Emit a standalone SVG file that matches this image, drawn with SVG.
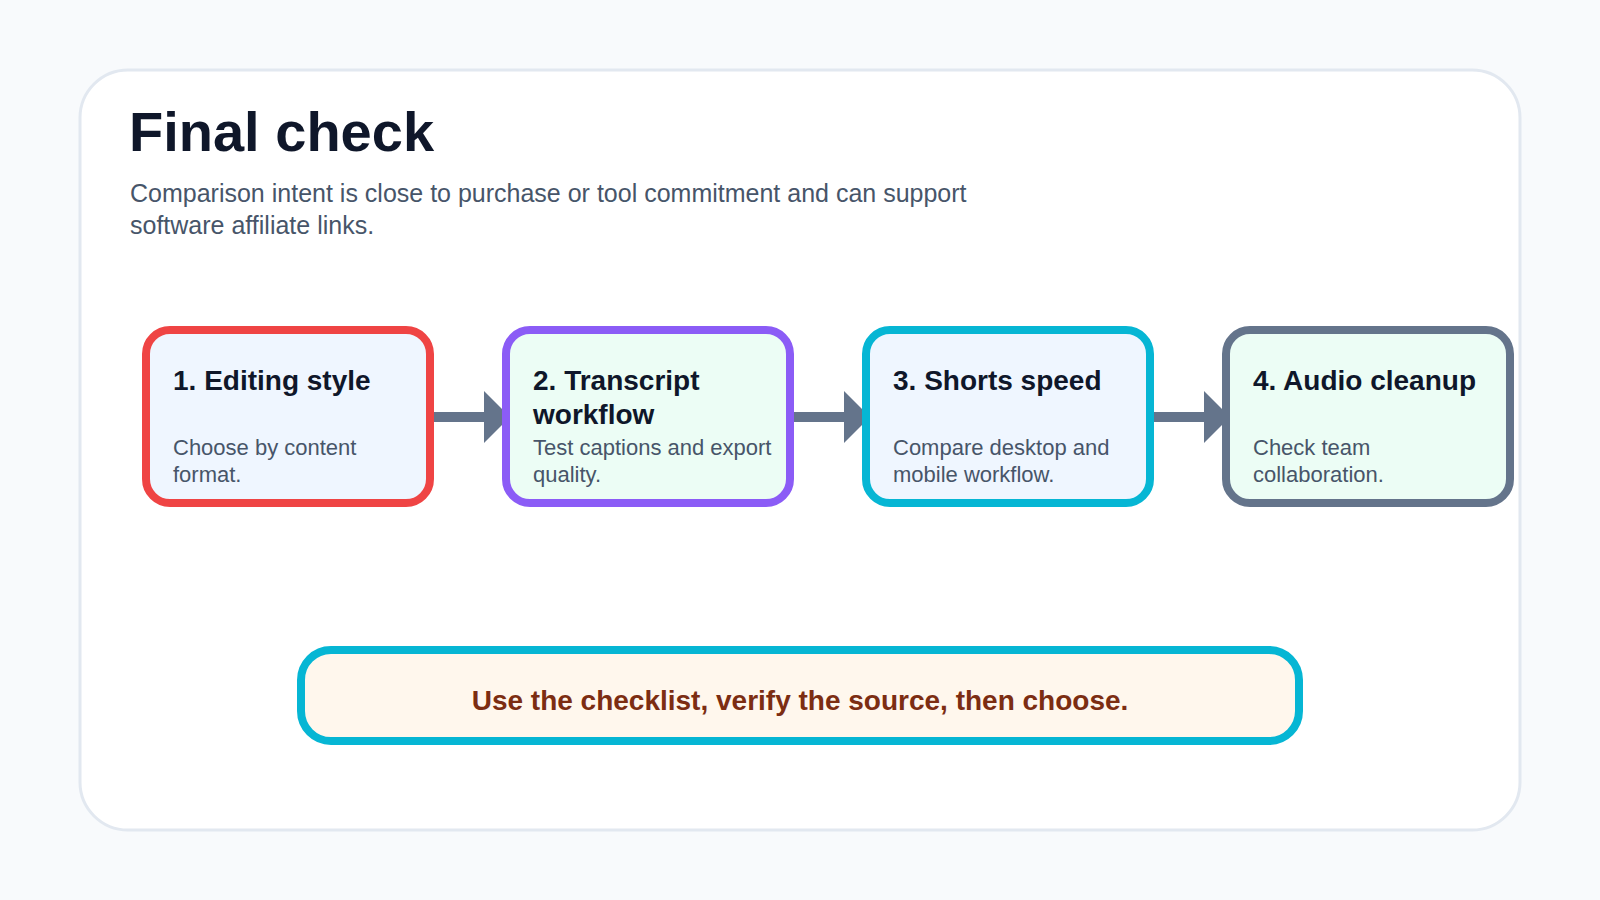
<svg xmlns="http://www.w3.org/2000/svg" width="1600" height="900" viewBox="0 0 1600 900">
<style>
text{font-family:"Liberation Sans",Arial,sans-serif}
.title{font-size:56px;font-weight:700;fill:#0f172a}
.sub{font-size:25px;fill:#475569}
.nt{font-size:28px;font-weight:700;fill:#0f172a}
.nd{font-size:22px;fill:#475569}
.node rect{stroke-width:8}
.conn{stroke:#64748b;stroke-width:10;fill:none;stroke-linecap:round}
.foot{font-size:28px;font-weight:700;fill:#7c2d12}
</style>
<defs>
<marker id="ah" markerUnits="userSpaceOnUse" viewBox="0 0 26 52" markerWidth="26" markerHeight="52" refX="16" refY="26" orient="auto">
<path d="M0,0 L26,26 L0,52 Z" fill="#64748b"/>
</marker>
</defs>
<rect width="1600" height="900" fill="#f8fafc"/>
<rect x="80" y="70" width="1440" height="760" rx="48" fill="#ffffff" stroke="#e2e8f0" stroke-width="3"/>
<text class="title" x="129" y="151">Final check</text>
<text class="sub" x="130" y="202">Comparison intent is close to purchase or tool commitment and can support</text>
<text class="sub" x="130" y="234">software affiliate links.</text>
<g id="connectors">
<path class="conn" d="M430,417 H500" marker-end="url(#ah)"/>
<path class="conn" d="M790,417 H860" marker-end="url(#ah)"/>
<path class="conn" d="M1150,417 H1220" marker-end="url(#ah)"/>
</g>
<g id="node1" class="node">
<rect x="146" y="330" width="284" height="173" rx="24" fill="#eff6ff" stroke="#ef4444"/>
<text class="nt" x="173" y="390">1. Editing style</text>
<text class="nd" x="173" y="455">Choose by content</text>
<text class="nd" x="173" y="482">format.</text>
</g>
<g id="node2" class="node">
<rect x="506" y="330" width="284" height="173" rx="24" fill="#ecfdf5" stroke="#8b5cf6"/>
<text class="nt" x="533" y="390">2. Transcript</text>
<text class="nt" x="533" y="424">workflow</text>
<text class="nd" x="533" y="455">Test captions and export</text>
<text class="nd" x="533" y="482">quality.</text>
</g>
<g id="node3" class="node">
<rect x="866" y="330" width="284" height="173" rx="24" fill="#eff6ff" stroke="#06b6d4"/>
<text class="nt" x="893" y="390">3. Shorts speed</text>
<text class="nd" x="893" y="455">Compare desktop and</text>
<text class="nd" x="893" y="482">mobile workflow.</text>
</g>
<g id="node4" class="node">
<rect x="1226" y="330" width="284" height="173" rx="24" fill="#ecfdf5" stroke="#64748b"/>
<text class="nt" x="1253" y="390">4. Audio cleanup</text>
<text class="nd" x="1253" y="455">Check team</text>
<text class="nd" x="1253" y="482">collaboration.</text>
</g>
<g id="footer">
<rect x="301" y="650" width="998" height="91" rx="30" fill="#fff7ed" stroke="#06b6d4" stroke-width="8"/>
<text class="foot" x="800" y="710" text-anchor="middle">Use the checklist, verify the source, then choose.</text>
</g>
</svg>
